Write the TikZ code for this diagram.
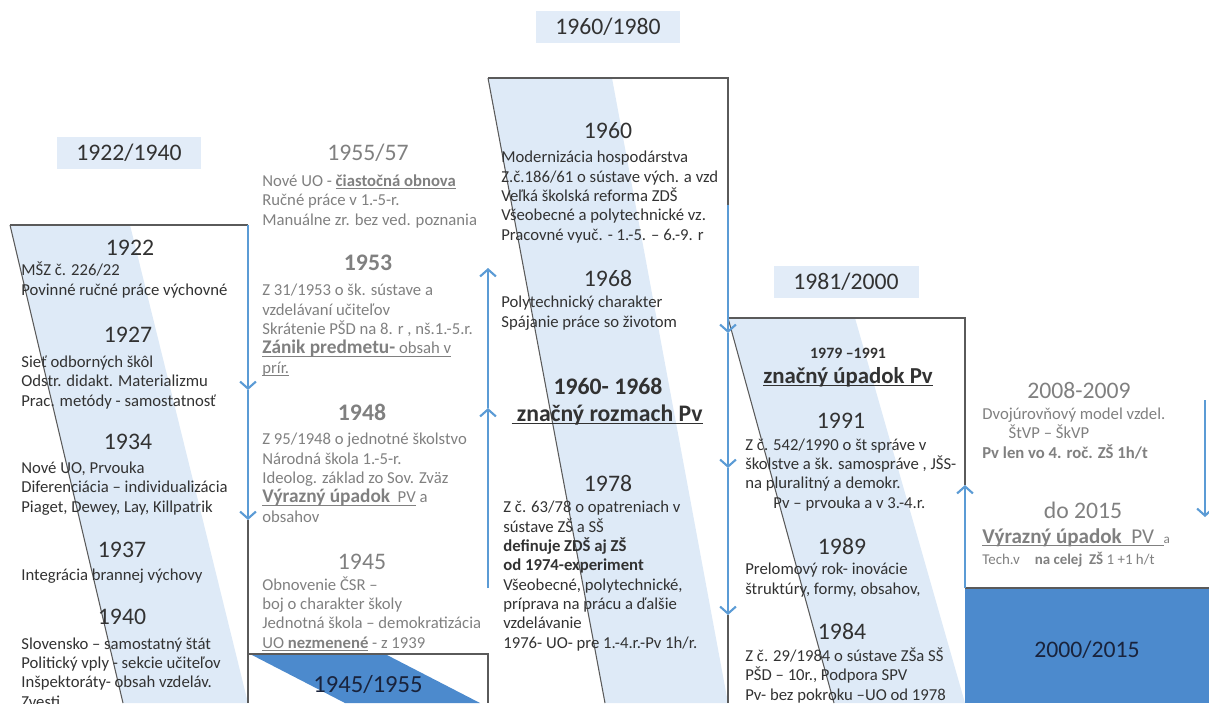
\documentclass[tikz,border=0pt]{standalone}
\usepackage{fontspec}
\setmainfont{Carlito}
\usetikzlibrary{arrows.meta}

\definecolor{bandblue}{RGB}{222,234,247}
\definecolor{lblblue}{RGB}{226,236,248}
\definecolor{flowblue}{RGB}{91,155,213}
\definecolor{boxblue}{RGB}{76,138,205}
\definecolor{darktxt}{RGB}{50,50,50}
\definecolor{greytxt}{RGB}{128,128,128}
\definecolor{edgegrey}{RGB}{90,90,90}
\definecolor{navytxt}{RGB}{25,35,60}

\newcommand{\yrsize}{\fontsize{13.5}{15}\selectfont}
\newcommand{\txtsize}{\fontsize{9.5}{11}\selectfont}
\newcommand{\bigsize}{\fontsize{11}{11}\selectfont}
\newcommand{\undl}[1]{\setbox0\hbox{#1}\rlap{\rule[-1.6pt]{\wd0}{0.55pt}}\box0\relax}

% body nodes are anchored at the baseline of their last line
\tikzset{
  period/.style={fill=lblblue, minimum width=2.9cm, minimum height=0.64cm, inner sep=0pt, font=\yrsize, text=darktxt},
  yr/.style={inner sep=0pt, font=\yrsize, text=darktxt},
  gyr/.style={yr, text=greytxt},
  body/.style={inner sep=0pt, anchor=base west, align=left, font=\txtsize, text=darktxt},
  gbody/.style={body, text=greytxt},
  flow/.style={draw=flowblue, line width=1.2pt, -{Straight Barb[length=4pt,width=9pt]}},
  boxline/.style={draw=edgegrey, line width=0.6pt}
}

\begin{document}
\begin{tikzpicture}[x=0.02cm, y=-0.02cm]
\useasboundingbox (0,0) rectangle (1209,703);

% bands
\fill[bandblue] (10,225) -- (130,225) -- (248,703) -- (123,703) -- cycle;
\fill[bandblue] (488,78) -- (612,78) -- (728,703) -- (605,703) -- cycle;
\fill[bandblue] (728,318) -- (855,318) -- (965,703) -- (834,703) -- cycle;
\fill[boxblue] (250,654) -- (385,654) -- (480,703) -- (345,703) -- cycle;
\fill[boxblue] (965,588) rectangle (1209,703);

% corners of the boxes
\coordinate (b1nw) at (10,225);
\coordinate (b1ne) at (248,225);
\coordinate (b1sw) at (123,703);
\coordinate (b1se) at (248,703);
\coordinate (b2nw) at (248,654);
\coordinate (b2ne) at (488,654);
\coordinate (b2se) at (488,703);
\coordinate (b3nw) at (488,78);
\coordinate (b3ne) at (728,78);
\coordinate (b3sw) at (605,703);
\coordinate (b3se) at (728,703);
\coordinate (b4nw) at (728,318);
\coordinate (b4ne) at (965,318);
\coordinate (b4sw) at (834,703);
\coordinate (b5nw) at (965,588);
\coordinate (b5ne) at (1209,588);

% flow lines
\coordinate (f1a) at (248,225);
\coordinate (f1b) at (248,390);
\coordinate (f1c) at (248,520);
\coordinate (f2a) at (488,588);
\coordinate (f2b) at (488,408);
\coordinate (f2c) at (488,268);
\coordinate (f3a) at (728,205);
\coordinate (f3b) at (728,333);
\coordinate (f3c) at (728,468);
\coordinate (f3d) at (728,615);
\coordinate (f4a) at (965,588);
\coordinate (f4b) at (965,485);
\coordinate (f5a) at (1205,400);
\coordinate (f5b) at (1205,517);

\draw[boxline] (b1nw) -- (b1ne);
\draw[boxline] (b1nw) -- (b1sw);
\draw[boxline] (f1c) -- (b1se);
\draw[boxline] (b2nw) -- (b2ne) -- (b2se);
\draw[boxline] (b3nw) -- (b3ne) -- (f3a);
\draw[boxline] (b3nw) -- (b3sw);
\draw[boxline] (f3d) -- (b3se);
\draw[boxline] (b4nw) -- (b4ne) -- (f4b);
\draw[boxline] (b4nw) -- (b4sw);
\draw[boxline] (b5nw) -- (b5ne);

\draw[flow] (f1a) -- (f1b);
\draw[flow] (f1b) -- (f1c);
\draw[flow] (f2a) -- (f2b);
\draw[flow] (f2b) -- (f2c);
\draw[flow] (f3a) -- (f3b);
\draw[flow] (f3b) -- (f3c);
\draw[flow] (f3c) -- (f3d);
\draw[flow] (f4a) -- (f4b);
\draw[flow] (f5a) -- (f5b);

% 1922/1940
\node[period] (p1) at (129,153) {1922/1940};
\node[yr] (y1922) at (130,248) {1922};
\node[body] (t1922) at (21,295) {MŠZ č. 226/22\\Povinné ručné práce výchovné};
\node[yr] (y1927) at (128,335) {1927};
\node[body] (t1927) at (21,406) {Sieť odborných škôl\\Odstr.  didakt. Materializmu\\Prac. metódy - samostatnosť};
\node[yr] (y1934) at (128,442) {1934};
\node[body] (t1934) at (21,512) {Nové UO, Prvouka\\Diferenciácia – individualizácia\\Piaget, Dewey, Lay, Killpatrik};
\node[yr] (y1937) at (122,550) {1937};
\node[body] (t1937) at (21,580) {Integrácia brannej výchovy};
\node[yr] (y1940) at (122,617) {1940};
\node[body] (t1940) at (21,707) {Slovensko – samostatný štát\\Politický vply - sekcie učiteľov\\Inšpektoráty- obsah vzdeláv.\\Zvesti};

% 1945/1955
\node[gyr] (y1955) at (368,153) {1955/57};
\node[gbody] (t1955) at (262,225) {Nové UO - \undl{\textbf{čiastočná obnova}}\\Ručné práce v 1.-5-r.\\Manuálne zr. bez ved. poznania};
\node[gyr, font=\yrsize\bfseries] (y1953) at (368,263) {1953};
\node[gbody] (t1953) at (262,373) {Z 31/1953 o šk. sústave  a\\vzdelávaní učiteľov\\Skrátenie PŠD na 8. r , nš.1.-5.r.\\\undl{{\bigsize\textbf{Zánik predmetu-}} obsah v}\\\undl{prír.}};
\node[gyr, font=\yrsize\bfseries] (y1948) at (362,412) {1948};
\node[gbody] (t1948) at (262,522) {Z 95/1948 o jednotné školstvo\\Národná škola 1.-5-r.\\Ideolog.  základ zo Sov. Zväz\\\undl{{\bigsize\textbf{Výrazný úpadok}}\ \ PV} a\\obsahov};
\node[gyr] (y1945) at (362,562) {1945};
\node[gbody] (t1945) at (262,648) {Obnovenie ČSR –\\boj o charakter  školy\\Jednotná škola – demokratizácia\\\undl{UO \textbf{nezmenené}} - z 1939};
\node[yr, font=\fontsize{14}{15}\selectfont, text=navytxt] (p2) at (368,684) {1945/1955};

% 1960/1980
\node[period] (p3) at (608,27) {1960/1980};
\node[yr] (y1960) at (608,131) {1960};
\node[body] (t1960) at (501,240) {Modernizácia hospodárstva\\Z.č.186/61 o sústave vých. a vzd\\Veľká školská  reforma ZDŠ\\Všeobecné  a polytechnické  vz.\\Pracovné  vyuč. - 1.-5. –  6.-9. r};
\node[yr] (y1968) at (608,278) {1968};
\node[body] (t1968) at (501,327) {Polytechnický charakter\\Spájanie práce so životom};
\node[yr, font=\yrsize\bfseries] (y6068) at (608,386) {1960- 1968};
\node[yr, font=\yrsize\bfseries, anchor=base] (t6068) at (607,421) {\undl{\ značný rozmach Pv}};
\node[yr] (y1978) at (608,483) {1978};
\node[body] (t1978) at (503,648) {Z č. 63/78 o opatreniach v\\sústave ZŠ a SŠ\\\textbf{definuje ZDŠ aj ZŠ}\\\textbf{od 1974-experiment}\\Všeobecné, polytechnické,\\príprava na prácu a ďalšie\\vzdelávanie\\1976- UO- pre 1.-4.r.-Pv 1h/r.};

% 1981/2000
\node[period] (p4) at (846,282) {1981/2000};
\node[yr, font=\fontsize{9}{11}\selectfont\bfseries] (y7991) at (848,353) {1979 –1991};
\node[yr, font=\fontsize{13}{15}\selectfont\bfseries, anchor=base] (t7991) at (848,383) {\undl{značný úpadok Pv}};
\node[yr] (y1991) at (841,421) {1991};
\node[body] (t1991) at (745,508) {Z č. 542/1990 o št správe v\\školstve a šk. samospráve ,  JŠS-\\na pluralitný a demokr.\\\hspace*{16pt}Pv – prvouka a v 3.-4.r.};
\node[yr] (y1989) at (842,546) {1989};
\node[body] (t1989) at (745,594) {Prelomový rok- inovácie\\štruktúry, formy, obsahov,};
\node[yr] (y1984) at (842,631) {1984};
\node[body] (t1984) at (745,700) {Z č. 29/1984 o sústave ZŠa SŠ\\PŠD – 10r., Podpora SPV\\Pv- bez pokroku –UO od 1978};

% 2000/2015
\node[gyr] (y0809) at (1079,390) {2008-2009};
\node[gbody] (t0809) at (982,458) {Dvojúrovňový model vzdel.\\\hspace*{15pt}ŠtVP – ŠkVP\\\textbf{Pv len vo 4. roč. ZŠ 1h/t}};
\node[gyr] (y2015) at (1083,510) {do 2015};
\node[gbody, font={\fontsize{12}{12}\selectfont}] (t2015a) at (982,543) {\undl{\textbf{Výrazný úpadok}\ \ PV\ \ }{\fontsize{7.5}{8}\selectfont a}};
\node[gbody, font={\fontsize{8.5}{9}\selectfont}] (t2015b) at (982,564) {Tech.v\quad\textbf{na celej\ \ ZŠ}\ 1 +1 h/t};
\node[yr, text=navytxt] (p5) at (1087,650) {2000/2015};

\end{tikzpicture}
\end{document}
